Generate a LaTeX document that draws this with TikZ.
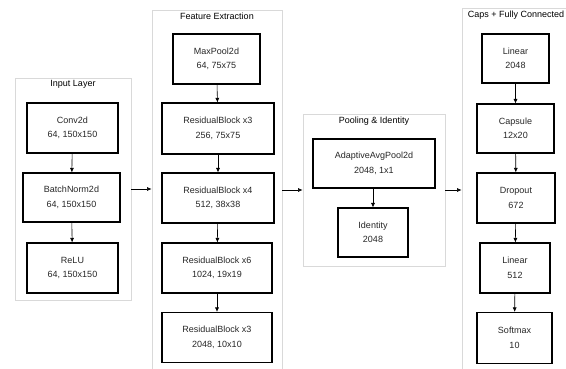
\documentclass[tikz,border=0pt]{standalone}
\usepackage{fontspec}
\setmainfont{Liberation Sans}
\usetikzlibrary{arrows.meta}

\begin{document}
\begin{tikzpicture}[x=1pt,y=-1pt,
  blk/.style={draw,line width=1.1pt,align=center,inner sep=0pt,text=black!85,font=\fontsize{9}{14.5}\selectfont},
  grp/.style={draw=black!15,line width=0.8pt,inner sep=0pt},
  ttl/.style={anchor=north,inner sep=3pt,font=\fontsize{9}{11}\selectfont},
  arr/.style={-{Latex[length=4.5pt,width=4pt]},line width=0.6pt}]
\useasboundingbox (0,0) rectangle (566,369);
% groups
\node[grp,minimum width=116pt,minimum height=222pt] (ingrp) at (73,189) {};
\node[grp,minimum width=130pt,minimum height=362pt] (featgrp) at (217,191) {};
\node[grp,minimum width=142pt,minimum height=152pt] (poolgrp) at (374,190) {};
\node[grp,minimum width=108pt,minimum height=364pt] (capsgrp) at (516,190) {};
\node[ttl] at (ingrp.north) {Input Layer};
\node[ttl] at (featgrp.north) {Feature Extraction};
\node[ttl] at (poolgrp.north) {Pooling \& Identity};
\node[ttl] at (capsgrp.north) {Caps + Fully Connected};
% input layer
\node[blk,minimum width=91pt,minimum height=50pt] (conv) at (72.5,128) {Conv2d\\64, 150x150};
\node[blk,minimum width=97pt,minimum height=49pt] (bnorm) at (71.5,197.5) {BatchNorm2d\\64, 150x150};
\node[blk,minimum width=91pt,minimum height=50pt] (relu) at (72.5,268) {ReLU\\64, 150x150};
\draw[arr] (conv)--(bnorm);
\draw[arr] (bnorm)--(relu);
% feature extraction
\node[blk,minimum width=87pt,minimum height=50pt] (maxpool) at (216.5,59) {MaxPool2d\\64, 75x75};
\node[blk,minimum width=112pt,minimum height=51pt] (resa) at (218,128.5) {ResidualBlock x3\\256, 75x75};
\node[blk,minimum width=112pt,minimum height=50pt] (resb) at (218,198) {ResidualBlock x4\\512, 38x38};
\node[blk,minimum width=110pt,minimum height=50pt] (resc) at (217,268) {ResidualBlock x6\\1024, 19x19};
\node[blk,minimum width=110pt,minimum height=50pt] (resd) at (217,337.5) {ResidualBlock x3\\2048, 10x10};
\draw[arr] (maxpool)--(resa);
\draw[arr] (resa)--(resb);
\draw[arr] (resb)--(resc);
\draw[arr] (resc)--(resd);
% pooling
\node[blk,minimum width=122pt,minimum height=49pt] (avgpool) at (374,163.5) {AdaptiveAvgPool2d\\2048, 1x1};
\node[blk,minimum width=70pt,minimum height=49pt] (ident) at (373,232.5) {Identity\\2048};
\draw[arr] (avgpool.south -| ident)--(ident);
% caps + fully connected
\node[blk,minimum width=67pt,minimum height=49pt] (lina) at (515.5,58.5) {Linear\\2048};
\node[blk,minimum width=77pt,minimum height=49pt] (caps) at (515.5,128.5) {Capsule\\12x20};
\node[blk,minimum width=78pt,minimum height=50pt] (drop) at (516,198) {Dropout\\672};
\node[blk,minimum width=70pt,minimum height=50pt] (linb) at (515,268) {Linear\\512};
\node[blk,minimum width=75pt,minimum height=51pt] (smax) at (514.5,338) {Softmax\\10};
\draw[arr] (lina)--(caps);
\draw[arr] (caps)--(drop);
\draw[arr] (drop)--(linb);
\draw[arr] (linb)--(smax);
% between groups
\draw[arr] (ingrp.east)--(ingrp.east -| featgrp.west);
\draw[arr] (featgrp.east |- poolgrp.west)--(poolgrp.west);
\draw[arr] (poolgrp.east)--(capsgrp.west);
\end{tikzpicture}
\end{document}
